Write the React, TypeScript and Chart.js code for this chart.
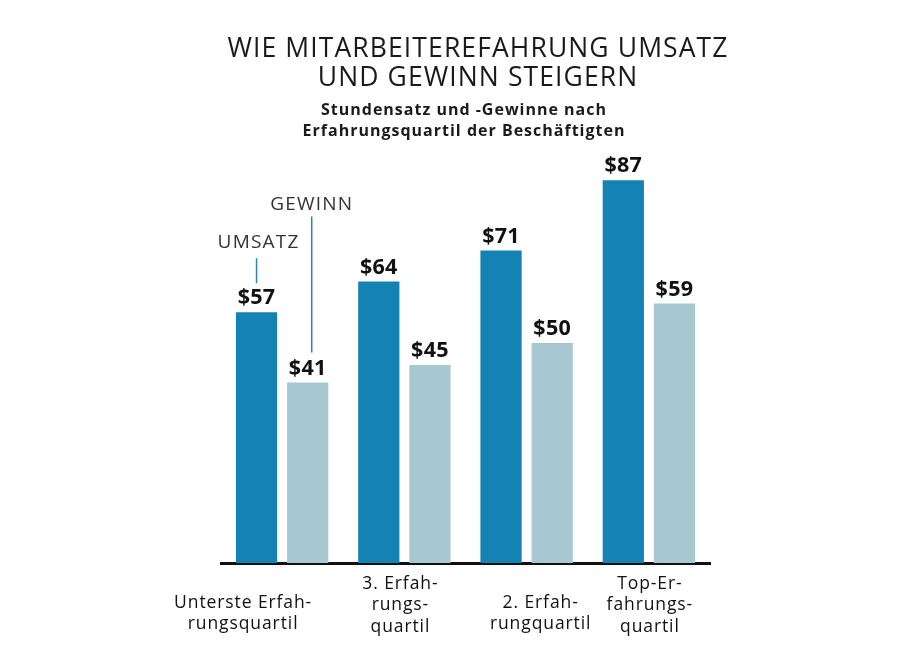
import React, { useEffect, useRef } from "react";
import { Chart, registerables } from "chart.js";

Chart.register(...registerables);

const categories: string[][] = [
  ["Unterste Erfah-", "rungsquartil"],
  ["3. Erfah-", "rungs-", "quartil"],
  ["2. Erfah-", "rungquartil"],
  ["Top-Er-", "fahrungs-", "quartil"],
];
const umsatz = [57, 64, 71, 87];
const gewinn = [41, 45, 50, 59];
const seriesNames = ["UMSATZ", "GEWINN"];
const titleLines = ["WIE MITARBEITEREFAHRUNG UMSATZ", "UND GEWINN STEIGERN"];
const subtitleLines = ["Stundensatz und -Gewinne nach", "Erfahrungsquartil der Beschäftigten"];

const DARK = "#1482b2";
const LIGHT = "#a7c8d0";
const LINE = "#2a86ad";
const FONT = '"Open Sans", "Noto Sans", sans-serif';

function setFont(ctx: any, font: string, spacing: number) {
  ctx.font = font;
  try {
    ctx.letterSpacing = spacing + "px";
  } catch (e) {}
}

const textPlugin = {
  id: "textPlugin",
  afterDatasetsDraw(chart: any) {
    const ctx = chart.ctx as any;
    const area = chart.chartArea;
    const xs = chart.scales.x;
    ctx.save();
    ctx.textAlign = "center";
    ctx.textBaseline = "middle";

    // Title
    ctx.fillStyle = "#1a1a1a";
    setFont(ctx, `400 26.5px ${FONT}`, 1.1);
    titleLines.forEach((t, i) => ctx.fillText(t, 470, 41 + i * 29));

    // Subtitle
    setFont(ctx, `700 16px ${FONT}`, 1.0);
    subtitleLines.forEach((t, i) => ctx.fillText(t, 456, 102 + i * 21));

    // Value labels
    setFont(ctx, `700 21.5px ${FONT}`, 0.3);
    ctx.fillStyle = "#111";
    chart.data.datasets.forEach((ds: any, di: number) => {
      const meta = chart.getDatasetMeta(di);
      meta.data.forEach((el: any, i: number) => {
        ctx.fillText("$" + ds.data[i], el.x, el.y - 14);
      });
    });

    // Series callouts
    const b0 = chart.getDatasetMeta(0).data[0];
    const b1 = chart.getDatasetMeta(1).data[0];
    ctx.strokeStyle = LINE;
    ctx.lineWidth = 1.5;
    ctx.beginPath();
    ctx.moveTo(b0.x, b0.y - 54);
    ctx.lineTo(b0.x, b0.y - 29);
    ctx.moveTo(b1.x + 4, b1.y - 166);
    ctx.lineTo(b1.x + 4, b1.y - 30);
    ctx.stroke();
    setFont(ctx, `400 19px ${FONT}`, 1.2);
    ctx.fillStyle = "#333";
    ctx.fillText(seriesNames[0], b0.x + 2, b0.y - 70);
    ctx.fillText(seriesNames[1], b1.x + 4, b1.y - 178);

    // Category labels
    const xOff = [-39, -4, 14, 1];
    setFont(ctx, `500 17.5px ${FONT}`, 0.9);
    ctx.fillStyle = "#111";
    categories.forEach((lines, i) => {
      const cx = xs.getPixelForValue(i) + xOff[i];
      const y0 = area.bottom + (lines.length === 2 ? 40 : 21);
      lines.forEach((l, j) => ctx.fillText(l, cx, y0 + j * 21.5));
    });
    ctx.restore();
  },
};

export default function App() {
  const ref = useRef<HTMLCanvasElement | null>(null);
  useEffect(() => {
    if (!ref.current) return;
    const chart = new Chart(ref.current, {
      type: "bar",
      data: {
        labels: categories.map((c) => c.join(" ")),
        datasets: [
          { label: seriesNames[0], data: umsatz, backgroundColor: DARK, categoryPercentage: 0.837, barPercentage: 0.806 },
          { label: seriesNames[1], data: gewinn, backgroundColor: LIGHT, categoryPercentage: 0.837, barPercentage: 0.806 },
        ],
      },
      options: {
        responsive: false,
        animation: false,
        layout: { padding: { left: 213, right: 205, top: 115, bottom: 90 } },
        plugins: { legend: { display: false }, title: { display: false }, tooltip: { enabled: false } },
        scales: {
          x: {
            display: true,
            grid: { display: false, drawTicks: false },
            ticks: { display: false },
            border: { display: true, color: "#111", width: 3 },
          },
          y: { display: false, min: 0, max: 100 },
        },
      },
      plugins: [textPlugin],
    });
    return () => chart.destroy();
  }, []);
  return <canvas ref={ref} width={907} height={645} style={{ display: "block" }} />;
}
